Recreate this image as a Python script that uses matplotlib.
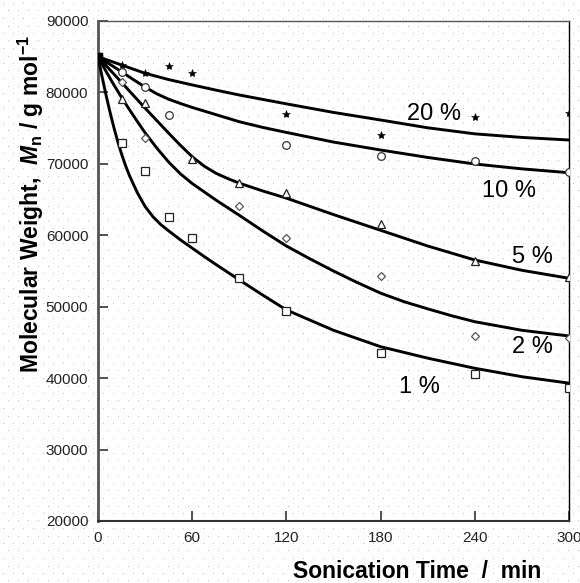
import numpy as np
import matplotlib
matplotlib.use("Agg")
import matplotlib.pyplot as plt

# ---------------- data ----------------
t_20 = [0, 15, 30, 45, 60, 120, 180, 240, 300]
m_20 = [85000, 83800, 82760, 83700, 82700, 76980, 74040, 76600, 77160]
t_10 = [0, 15, 30, 45, 120, 180, 240, 300]
m_10 = [85000, 82800, 80750, 76840, 72640, 71140, 70440, 68820]
t_5 = [0, 15, 30, 60, 90, 120, 180, 240, 300]
m_5 = [85000, 79060, 78500, 70640, 67360, 65960, 61580, 56440, 54200]
t_2 = [0, 15, 30, 90, 120, 180, 240, 300]
m_2 = [85000, 81400, 73580, 64140, 59580, 54300, 45940, 45580]
t_1 = [0, 15, 30, 45, 60, 90, 120, 180, 240, 300]
m_1 = [85000, 72900, 69000, 62580, 59580, 54040, 49440, 43480, 40540, 38580]

# fitted curves
fit_t_20 = [0, 15, 30, 45, 60, 75, 90, 120, 150, 180, 210, 240, 270, 300]
fit_20 = [85000, 83840, 82680, 81800, 81050, 80330, 79640, 78400, 77200, 76140,
          75050, 74200, 73700, 73340]
fit_t_10 = [0, 7.5, 15, 22.5, 30, 37.5, 45, 52.5, 60, 75, 90, 105, 120, 150, 180,
            210, 240, 270, 300]
fit_10 = [85000, 83950, 82900, 81800, 80750, 79800, 79050, 78450, 77900, 76900,
          75900, 75100, 74400, 73050, 71940, 70900, 69980, 69300, 68760]
fit_t_5 = [0, 15, 30, 45, 52.5, 60, 67.5, 75, 82.5, 90, 105, 120, 150, 180, 210,
           240, 270, 300]
fit_5 = [85000, 81400, 77800, 74300, 72600, 71000, 69700, 68700, 67950, 67300,
         66200, 65200, 62900, 60700, 58500, 56540, 55100, 53980]
fit_t_2 = [0, 5, 10, 15, 20, 25, 30, 37.5, 45, 52.5, 60, 75, 90, 105, 120, 135,
           150, 165, 180, 195, 210, 225, 240, 270, 300]
fit_2 = [85000, 83000, 81100, 79300, 77600, 75950, 74350, 72200, 70250, 68600,
         67250, 64950, 62800, 60600, 58500, 56700, 55000, 53400, 51900, 50700,
         49700, 48750, 47900, 46700, 45900]
fit_t_1 = [0, 2.5, 5, 7.5, 10, 12.5, 15, 17.5, 20, 25, 30, 35, 40, 45, 52.5, 60,
           67.5, 75, 90, 105, 120, 150, 180, 210, 240, 270, 300]
fit_1 = [85000, 82300, 79750, 77380, 75180, 73180, 71380, 69780, 68380, 65980,
         64030, 62600, 61500, 60620, 59360, 58200, 57050, 55930, 53750, 51620,
         49550, 46700, 44400, 42800, 41380, 40200, 39300]

curve_labels = ["20 %", "10 %", "5 %", "2 %", "1 %"]
x_ticks = [0, 60, 120, 180, 240, 300]
y_ticks = [20000, 30000, 40000, 50000, 60000, 70000, 80000, 90000]

# ---------------- figure ----------------
W, H = 580, 583
fig = plt.figure(figsize=(W / 100, H / 100), dpi=100, facecolor="white")

# dotted background pattern
pat = np.zeros((H, W, 4))
for i, y in enumerate(np.arange(3, H, 7.5)):
    yy = int(round(y))
    off = 3 if i % 2 == 0 else 8
    for x in range(off, W, 10):
        pat[yy, x] = [0.76, 0.76, 0.76, 1.0]
fig.figimage(pat, xo=0, yo=0, zorder=-5)

ax = fig.add_axes([98 / W, 1 - 521 / H, (569 - 98) / W, (521 - 21) / H])
ax.patch.set_alpha(0)

lw = 2.1
for ft, fv in [(fit_t_20, fit_20), (fit_t_10, fit_10), (fit_t_5, fit_5),
               (fit_t_2, fit_2), (fit_t_1, fit_1)]:
    ax.plot(ft, fv, color="black", lw=lw, solid_capstyle="round",
            solid_joinstyle="round", zorder=3)

ax.plot(t_20, m_20, ls="none", marker="*", ms=6, mfc="black", mec="black", mew=0.4, zorder=4)
ax.plot(t_10, m_10, ls="none", marker="o", ms=5.5, mfc="white", mec="#333333", mew=0.9, zorder=4)
ax.plot(t_5, m_5, ls="none", marker="^", ms=6, mfc="white", mec="#222222", mew=0.9, zorder=4)
ax.plot(t_2, m_2, ls="none", marker="D", ms=4.3, mfc="white", mec="#555555", mew=0.9, zorder=4)
ax.plot(t_1, m_1, ls="none", marker="s", ms=5.5, mfc="white", mec="#222222", mew=0.9, zorder=4)
ax.plot(t_1[:1], m_1[:1], ls="none", marker="s", ms=6, mfc="black", mec="black", zorder=5)

# curve labels
lab_pos = [(214, 77000), (262, 66200), (277, 57000), (277, 44400), (205, 38800)]
for txt, (x, y) in zip(curve_labels, lab_pos):
    ax.text(x, y, txt, fontsize=17, family="Liberation Sans", ha="center", va="center", zorder=6)

ax.set_xlim(0, 300)
ax.set_ylim(20000, 90000)
ax.set_xticks(x_ticks)
ax.set_yticks(y_ticks)
ax.set_xticklabels([str(v) for v in x_ticks])
ax.set_yticklabels([str(v) for v in y_ticks])
ax.tick_params(axis="both", direction="in", length=7, width=1.2, color="#333333",
               labelsize=11, labelcolor="#222222")
ax.tick_params(axis="x", pad=7)
ax.tick_params(axis="y", pad=7)
for lab in ax.get_xticklabels() + ax.get_yticklabels():
    lab.set_family("Liberation Sans")

ax.spines["left"].set_color("#555555")
ax.spines["left"].set_linewidth(2.0)
ax.spines["bottom"].set_color("#333333")
ax.spines["bottom"].set_linewidth(1.5)
ax.spines["top"].set_color("#555555")
ax.spines["top"].set_linewidth(1.0)
ax.spines["right"].set_color("black")
ax.spines["right"].set_linewidth(1.0)

plt.rcParams["mathtext.fontset"] = "custom"
plt.rcParams["mathtext.rm"] = "Liberation Sans:bold"
plt.rcParams["mathtext.it"] = "Liberation Sans:italic:bold"
plt.rcParams["mathtext.bf"] = "Liberation Sans:bold"

fig.text(417 / W, 1 - 572 / H, "Sonication Time  /  min", fontsize=16.5, fontweight="bold",
         family="Liberation Sans", ha="center", va="center")
fig.text(31 / W, 1 - 204 / H,
         r"Molecular Weight,  $\mathit{M}_{\mathrm{n}}$ / g mol$^{\mathrm{-1}}$",
         fontsize=16.5, fontweight="bold", family="Liberation Sans", rotation=90,
         ha="center", va="center")

fig.savefig("out.png", dpi=100)
